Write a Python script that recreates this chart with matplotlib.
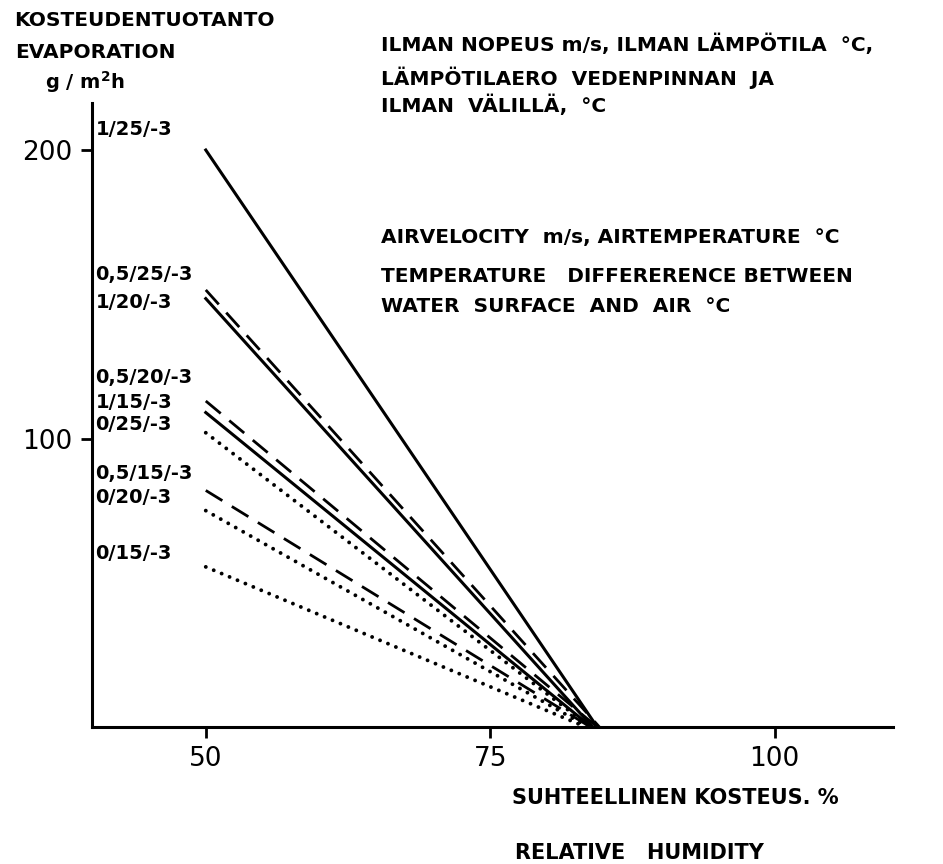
import matplotlib.pyplot as plt

# ── Data ───────────────────────────────────────────────────────────────────────
series_names = ["1/25/-3", "0,5/25/-3", "1/20/-3", "0,5/20/-3", "1/15/-3",
                "0/25/-3", "0,5/15/-3", "0/20/-3", "0/15/-3"]
air_velocity = [1, 0.5, 1, 0.5, 1, 0, 0.5, 0, 0]
rh_start = [50, 50, 50, 50, 50, 50, 50, 50, 50]
evap_start = [200, 151.5, 148.5, 113, 109, 102, 82, 75, 55.5]
rh_end = [84.4, 84.6, 84.0, 84.4, 83.9, 83.8, 83.8, 83.6, 83.4]
evap_end = [0, 0, 0, 0, 0, 0, 0, 0, 0]

x_ticks = [50, 75, 100]
y_ticks = [100, 200]

# ── Figure ─────────────────────────────────────────────────────────────────────
W, H = 943, 864
fig = plt.figure(figsize=(W / 100, H / 100), dpi=100)
ax = fig.add_axes([92 / W, 1 - 727 / H, (893 - 92) / W, (727 - 103) / H])
ax.set_xlim(40, 110.4)
ax.set_ylim(0, 216.3)

styles = {
    1: dict(linestyle="-", linewidth=2.2),
    0.5: dict(linestyle=(0, (7, 4)), linewidth=2.0),
    0: dict(linestyle=(0, (0.01, 2.2)), linewidth=2.8, dash_capstyle="round"),
}
for v, x0, y0, x1, y1 in zip(air_velocity, rh_start, evap_start, rh_end, evap_end):
    ax.plot([x0, x1], [y0, y1], color="black", **styles[v])

# curve labels next to the y axis
label_y = [207, 157, 147, 121, 112.5, 105, 88, 79.4, 60.3]
for name, ly in zip(series_names, label_y):
    ax.text(40.3, ly, name, fontsize=14, fontweight="bold", va="center", ha="left")

for side in ("top", "right"):
    ax.spines[side].set_visible(False)
for side in ("left", "bottom"):
    ax.spines[side].set_linewidth(2.2)
ax.set_xticks(x_ticks)
ax.set_yticks(y_ticks)
ax.tick_params(length=8, width=2, labelsize=19, pad=6)


def ftext(x, y, s, size=14.5):
    fig.text(x / W, 1 - y / H, s, va="center", ha="left",
             fontsize=size, fontweight="bold")


# axis titles
ftext(14, 20, "KOSTEUDENTUOTANTO", 14.5)
ftext(15, 53, "EVAPORATION", 14.5)
ftext(45, 82, r"g / m$^\mathbf{2}$h", 14)
ftext(512, 798, "SUHTEELLINEN KOSTEUS. %", 15)
ftext(515, 853, "RELATIVE   HUMIDITY", 15)

# explanation of the curve labels
ftext(381, 44, "ILMAN NOPEUS m/s, ILMAN LÄMPÖTILA  °C,")
ftext(381, 78, "LÄMPÖTILAERO  VEDENPINNAN  JA")
ftext(381, 105, "ILMAN  VÄLILLÄ,  °C")
ftext(381, 238, "AIRVELOCITY  m/s, AIRTEMPERATURE  °C")
ftext(381, 276, "TEMPERATURE   DIFFERERENCE BETWEEN")
ftext(381, 306, "WATER  SURFACE  AND  AIR  °C")

fig.savefig("out.png", dpi=100, facecolor="white")
